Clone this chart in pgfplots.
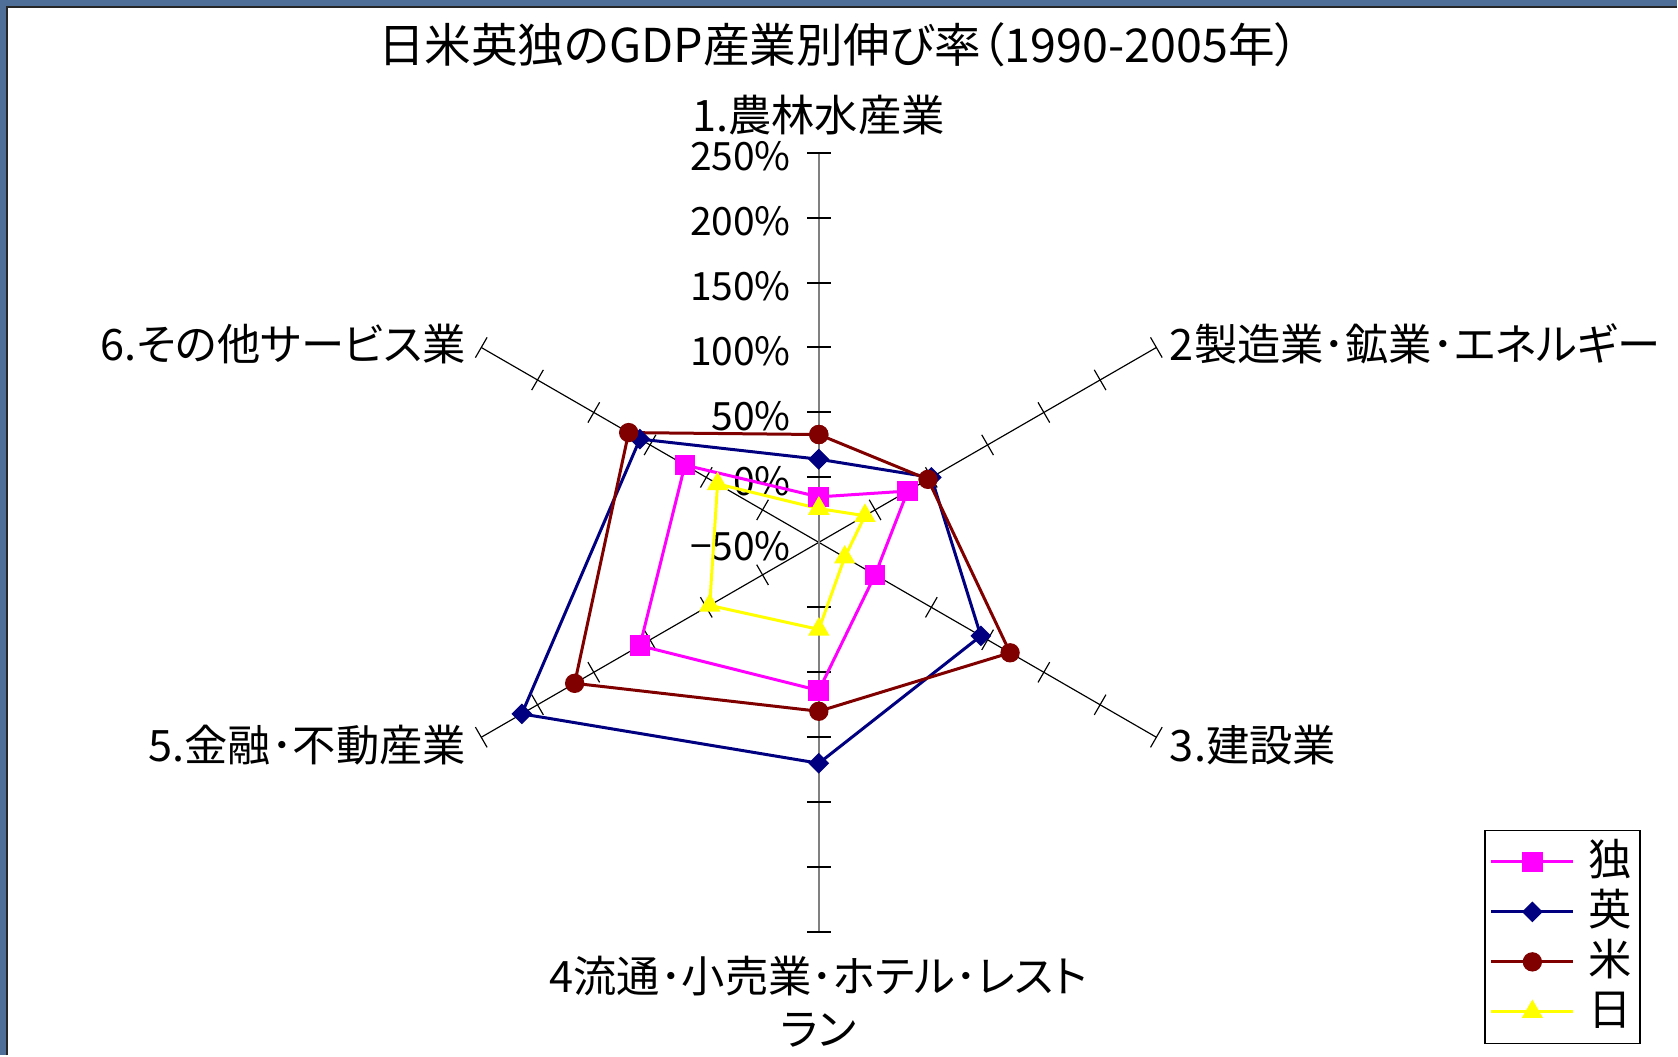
\documentclass[border=0pt]{standalone}
\usepackage{pgfplots}
\pgfplotsset{compat=1.18}
\usepackage{pgfplotstable}
\usepackage{fontspec}
\setmainfont{Noto Sans CJK JP}[RawFeature=+palt]
\definecolor{bgblue}{RGB}{79,111,153}
\definecolor{cdoku}{RGB}{255,0,255}
\definecolor{cei}{RGB}{0,0,128}
\definecolor{cbei}{RGB}{128,0,0}
\definecolor{cnichi}{RGB}{255,255,0}

% growth rate 1990-2005 in %, by industry (angle of each spoke in degrees)
\pgfplotstableread{
ang  doku  ei   bei  nichi
90   -15   14   33   -24
30    29   50   47    -9
-30    0   94  120   -27
-90   64  120   80    17
210  109  214  167    47
150   69  109  119    40
90   -15   14   33   -24
}\radardata

\begin{document}
\begin{tikzpicture}
% background frame
\fill[bgblue] (0,0) rectangle (503.4pt,316.8pt);
\begin{scope}[shift={(0pt,316.8pt)},x=0.3pt,y=-0.3pt]
  \fill[white] (7,7) rectangle (1678,1056);
  \draw[black!85, line width=0.6pt] (7,1056) -- (7,7) -- (1678,7);
\end{scope}
% spokes with tick marks (radius = value + 50)
\begin{scope}[shift={(245.79pt,153.99pt)},x=0.39pt,y=0.39pt]
  \foreach \a in {30,-30,150,210}{
    \draw[black, line width=0.35pt] (0,0) -- (\a:300);
    \foreach \r in {50,100,...,300}{
      \draw[black, line width=0.35pt, shift={(\a:\r)}, rotate=\a] (0,-9) -- (0,9);
    }
  }
  \draw[gray, line width=0.6pt] (0,-300) -- (0,300);
  \foreach \r in {50,100,...,300}{
    \draw[black, line width=0.6pt] (-9,\r) -- (9,\r);
    \draw[black, line width=0.6pt] (-9,-\r) -- (9,-\r);
  }
  \foreach \r/\lab in {0/−50,50/0,100/50,150/100,200/150,250/200,300/250}{
    \node[anchor=east, inner sep=0pt, font=\fontsize{11.7}{12}\selectfont] at (-21,\r-3) {\lab\%};
  }
\end{scope}

\begin{axis}[
  at={(0pt,0pt)}, anchor=south west,
  x=0.39pt, y=0.39pt,
  xmin=-630.23, xmax=660.54, ymin=-394.85, ymax=417.46,
  hide axis, clip=false,
  legend style={at={(rel axis cs:0.885,0.214)}, anchor=north west,
    draw=black, line width=0.45pt, fill=white,
    font=\fontsize{13}{13}\selectfont,
    inner xsep=1.5pt, inner ysep=2pt, row sep=0pt, column sep=3pt,
    nodes={inner sep=1pt, text height=10.5pt, text depth=2.5pt}},
  legend cell align=left,
  legend image code/.code={\draw[mark repeat=2,mark phase=2] plot coordinates {(0pt,0pt) (12.3pt,0pt) (24.6pt,0pt)};},
]
\addplot[cdoku, line width=0.9pt, mark=square*, mark size=2.9pt, mark options={solid, fill=cdoku, line width=0.4pt}]
  table[x expr={(\thisrow{doku}+50)*cos(\thisrow{ang})}, y expr={(\thisrow{doku}+50)*sin(\thisrow{ang})}] {\radardata};
\addlegendentry{独}
\addplot[cei, line width=0.9pt, mark=square*, mark size=2.0pt, mark options={solid, rotate=45, fill=cei, line width=0.4pt}]
  table[x expr={(\thisrow{ei}+50)*cos(\thisrow{ang})}, y expr={(\thisrow{ei}+50)*sin(\thisrow{ang})}] {\radardata};
\addlegendentry{英}
\addplot[cbei, line width=0.9pt, mark=*, mark size=2.7pt, mark options={solid, fill=cbei, line width=0.4pt}]
  table[x expr={(\thisrow{bei}+50)*cos(\thisrow{ang})}, y expr={(\thisrow{bei}+50)*sin(\thisrow{ang})}] {\radardata};
\addlegendentry{米}
\addplot[cnichi, line width=0.9pt, mark=triangle*, mark size=3.3pt, mark options={solid, fill=cnichi, line width=0.4pt}]
  table[x expr={(\thisrow{nichi}+50)*cos(\thisrow{ang})}, y expr={(\thisrow{nichi}+50)*sin(\thisrow{ang})}] {\radardata};
\addlegendentry{日}
\end{axis}

% titles and category labels
\begin{scope}[shift={(0pt,316.8pt)},x=0.3pt,y=-0.3pt]
  \node[font=\fontsize{14}{16}\selectfont, inner sep=0pt] at (838.5,45) {日米英独のGDP産業別伸び率（1990-2005年）};
  \node[font=\fontsize{13}{14}\selectfont, inner sep=0pt] at (819,115) {1.農林水産業};
  \node[font=\fontsize{13}{14}\selectfont, inner sep=0pt, anchor=west] at (1170,344) {2製造業･鉱業･エネルギー};
  \node[font=\fontsize{13}{14}\selectfont, inner sep=0pt, anchor=west] at (1170,746) {3.建設業};
  \node[font=\fontsize{13}{15.9}\selectfont, inner sep=0pt, align=center] at (819,1002) {4流通･小売業･ホテル･レスト\\ラン};
  \node[font=\fontsize{13}{14}\selectfont, inner sep=0pt, anchor=east] at (467,746) {5.金融･不動産業};
  \node[font=\fontsize{13}{14}\selectfont, inner sep=0pt, anchor=east] at (467,344) {6.その他サービス業};
\end{scope}
\end{tikzpicture}
\end{document}
